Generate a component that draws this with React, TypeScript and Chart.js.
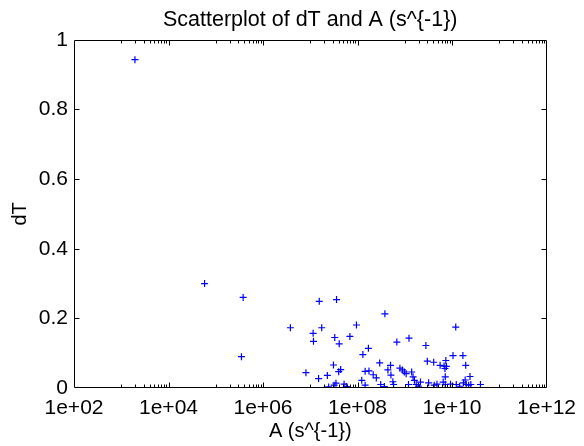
import React, { useEffect, useRef } from "react";
import { Chart, registerables } from "chart.js";

Chart.register(...registerables);

const TITLE = "Scatterplot of dT and A (s^{-1})";
const X_LABEL = "A (s^{-1})";
const Y_LABEL = "dT";

const A_VALUES = [
  1.95e3, 5.8e4, 3.8e5, 3.5e5, 3.8e6, 8.1e6, 1.55e7, 3.6e7, 1.15e7, 1.75e7,
  1.17e7, 3.3e7, 4.1e7, 6.9e7, 9.5e7, 3.8e8, 1.7e8, 1.3e8, 6.8e8, 1.23e9,
  1.5e7, 2.3e7, 3.1e7, 4.4e7, 4.0e7, 1.45e8, 1.75e8, 2.95e8, 5.0e8, 4.4e8,
  2.15e8, 2.5e8, 5.1e8, 7.9e8, 9.8e8, 1.4e9, 1.5e9, 1.23e8, 1.45e8, 2.45e7,
  3.2e7, 3.5e7, 5.2e7, 5.8e7, 3.1e8, 3.7e8, 5.6e8, 5.8e8, 1.2e9, 1.2e10,
  2.8e9, 3.0e9, 4.1e9, 1.05e10, 1.7e10, 7.4e9, 5.6e9, 6.8e9, 7.6e9, 7.1e9,
  1.95e10, 8.9e8, 1.07e9, 1.6e9, 7.2e9, 2.4e10, 1.75e9, 1.95e9, 2.15e9, 3.2e9,
  4.2e9, 4.8e9, 6.5e9, 7.2e9, 9.3e9, 1.23e10, 1.45e10, 1.75e10, 2.0e10, 2.25e10,
  2.5e10, 1.9e10, 4.0e10, 1.8e9,
];

const DT_VALUES = [
  0.943, 0.3, 0.26, 0.09, 0.173, 0.044, 0.249, 0.254, 0.157, 0.173,
  0.134, 0.145, 0.127, 0.148, 0.181, 0.213, 0.114, 0.096, 0.132, 0.143,
  0.027, 0.036, 0.066, 0.053, 0.047, 0.048, 0.049, 0.072, 0.065, 0.052,
  0.038, 0.029, 0.037, 0.057, 0.046, 0.046, 0.032, 0.022, 0.008, 0.003,
  0.008, 0.014, 0.011, 0.004, 0.01, 0.004, 0.018, 0.01, 0.01, 0.175,
  0.122, 0.077, 0.074, 0.093, 0.093, 0.079, 0.065, 0.063, 0.062, 0.056,
  0.065, 0.052, 0.041, 0.022, 0.032, 0.033, 0.01, 0.005, 0.017, 0.015,
  0.008, 0.011, 0.017, 0.01, 0.011, 0.01, 0.005, 0.015, 0.01, 0.008,
  0.01, 0.023, 0.01, 0.001,
];

const X_TICKS = [1e2, 1e4, 1e6, 1e8, 1e10, 1e12];
const Y_TICKS = [0, 0.2, 0.4, 0.6, 0.8, 1];
const Y_TICK_LABELS = ["0", "0.2", "0.4", "0.6", "0.8", "1"];

const FONT = "'Liberation Sans', Arial, Helvetica, sans-serif";

function expLabel(v: number): string {
  const e = Math.round(Math.log10(v));
  return "1e+" + (e < 10 ? "0" : "") + e;
}

const axesBoxPlugin = {
  id: "axesBox",
  afterDatasetsDraw(chart: any) {
    const { ctx, chartArea, scales } = chart;
    const { left, right, top, bottom } = chartArea;
    const xs = scales.x;
    const ys = scales.y;
    ctx.save();
    ctx.strokeStyle = "#000";
    ctx.lineWidth = 1;
    const L = Math.round(left) + 0.5;
    const R = Math.round(right) - 0.5;
    const T = Math.round(top) + 0.5;
    const B = Math.round(bottom) - 0.5;
    ctx.beginPath();
    ctx.rect(L, T, R - L, B - T);
    ctx.stroke();
    ctx.beginPath();
    const majorLen = 5;
    const minorLen = 3;
    X_TICKS.forEach((v) => {
      const px = Math.round(xs.getPixelForValue(v)) + 0.5;
      if (px <= L + 1 || px >= R - 1) return;
      ctx.moveTo(px, B);
      ctx.lineTo(px, B - majorLen);
      ctx.moveTo(px, T);
      ctx.lineTo(px, T + majorLen);
    });
    X_TICKS.slice(1).forEach((v) => {
      const base = v / 10;
      for (let k = 1; k <= 9; k++) {
        const px = Math.round(xs.getPixelForValue(base * k)) + 0.5;
        if (px >= R - 1) continue;
        ctx.moveTo(px, B);
        ctx.lineTo(px, B - minorLen);
        ctx.moveTo(px, T);
        ctx.lineTo(px, T + minorLen);
      }
    });
    Y_TICKS.forEach((v) => {
      const py = Math.round(ys.getPixelForValue(v)) + 0.5;
      if (py <= T + 1 || py >= B - 1) return;
      ctx.moveTo(L, py);
      ctx.lineTo(L + majorLen, py);
      ctx.moveTo(R, py);
      ctx.lineTo(R - majorLen, py);
    });
    ctx.stroke();
    ctx.restore();
  },
};

export default function App() {
  const canvasRef = useRef<HTMLCanvasElement | null>(null);

  useEffect(() => {
    const canvas = canvasRef.current;
    if (!canvas) return;
    const points = A_VALUES.map((a, i) => ({ x: a, y: DT_VALUES[i] }));
    const chart = new Chart(canvas, {
      type: "scatter",
      data: {
        datasets: [
          {
            data: points,
            pointStyle: "cross",
            pointRadius: 3.5,
            pointHoverRadius: 3.5,
            borderColor: "#0000ff",
            backgroundColor: "#0000ff",
            pointBorderWidth: 1.2,
            showLine: false,
          },
        ],
      },
      options: {
        responsive: false,
        animation: false,
        events: [],
        layout: { padding: { left: 0, right: 31, top: 0, bottom: 0 } },
        plugins: {
          legend: { display: false },
          tooltip: { enabled: false },
          title: {
            display: true,
            fullSize: false,
            text: TITLE,
            color: "#000",
            font: { family: FONT, size: 21.5, weight: "normal", lineHeight: 1.2 },
            padding: { top: 7, bottom: 7 },
          },
        },
        scales: {
          x: {
            type: "logarithmic",
            min: 1e2,
            max: 1e12,
            grid: { display: false, drawTicks: false },
            border: { display: false },
            afterBuildTicks: (scale: any) => {
              scale.ticks = X_TICKS.map((v) => ({ value: v }));
            },
            afterFit: (scale: any) => {
              scale.height = 58;
            },
            ticks: {
              autoSkip: false,
              maxRotation: 0,
              minRotation: 0,
              padding: 8,
              color: "#000",
              font: { family: FONT, size: 21 },
              callback: (value: any) => expLabel(Number(value)),
            },
            title: {
              display: true,
              text: X_LABEL,
              color: "#000",
              font: { family: FONT, size: 20 },
              padding: { top: 0, bottom: 3 },
            },
          },
          y: {
            type: "linear",
            min: 0,
            max: 1,
            grid: { display: false, drawTicks: false },
            border: { display: false },
            afterBuildTicks: (scale: any) => {
              scale.ticks = Y_TICKS.map((v) => ({ value: v }));
            },
            afterFit: (scale: any) => {
              scale.width = 74;
            },
            ticks: {
              autoSkip: false,
              padding: 6,
              color: "#000",
              font: { family: FONT, size: 21 },
              callback: (value: any) => {
                const i = Y_TICKS.indexOf(Number(value));
                return i >= 0 ? Y_TICK_LABELS[i] : String(value);
              },
            },
            title: {
              display: true,
              text: Y_LABEL,
              color: "#000",
              font: { family: FONT, size: 20 },
              padding: { top: 8, bottom: 0 },
            },
          },
        },
      },
      plugins: [axesBoxPlugin],
    });
    return () => chart.destroy();
  }, []);

  return (
    <div style={{ position: "fixed", left: 0, top: 0, width: 584, height: 446, background: "#fff" }}>
      <canvas ref={canvasRef} width={584} height={446} style={{ display: "block" }} />
    </div>
  );
}
